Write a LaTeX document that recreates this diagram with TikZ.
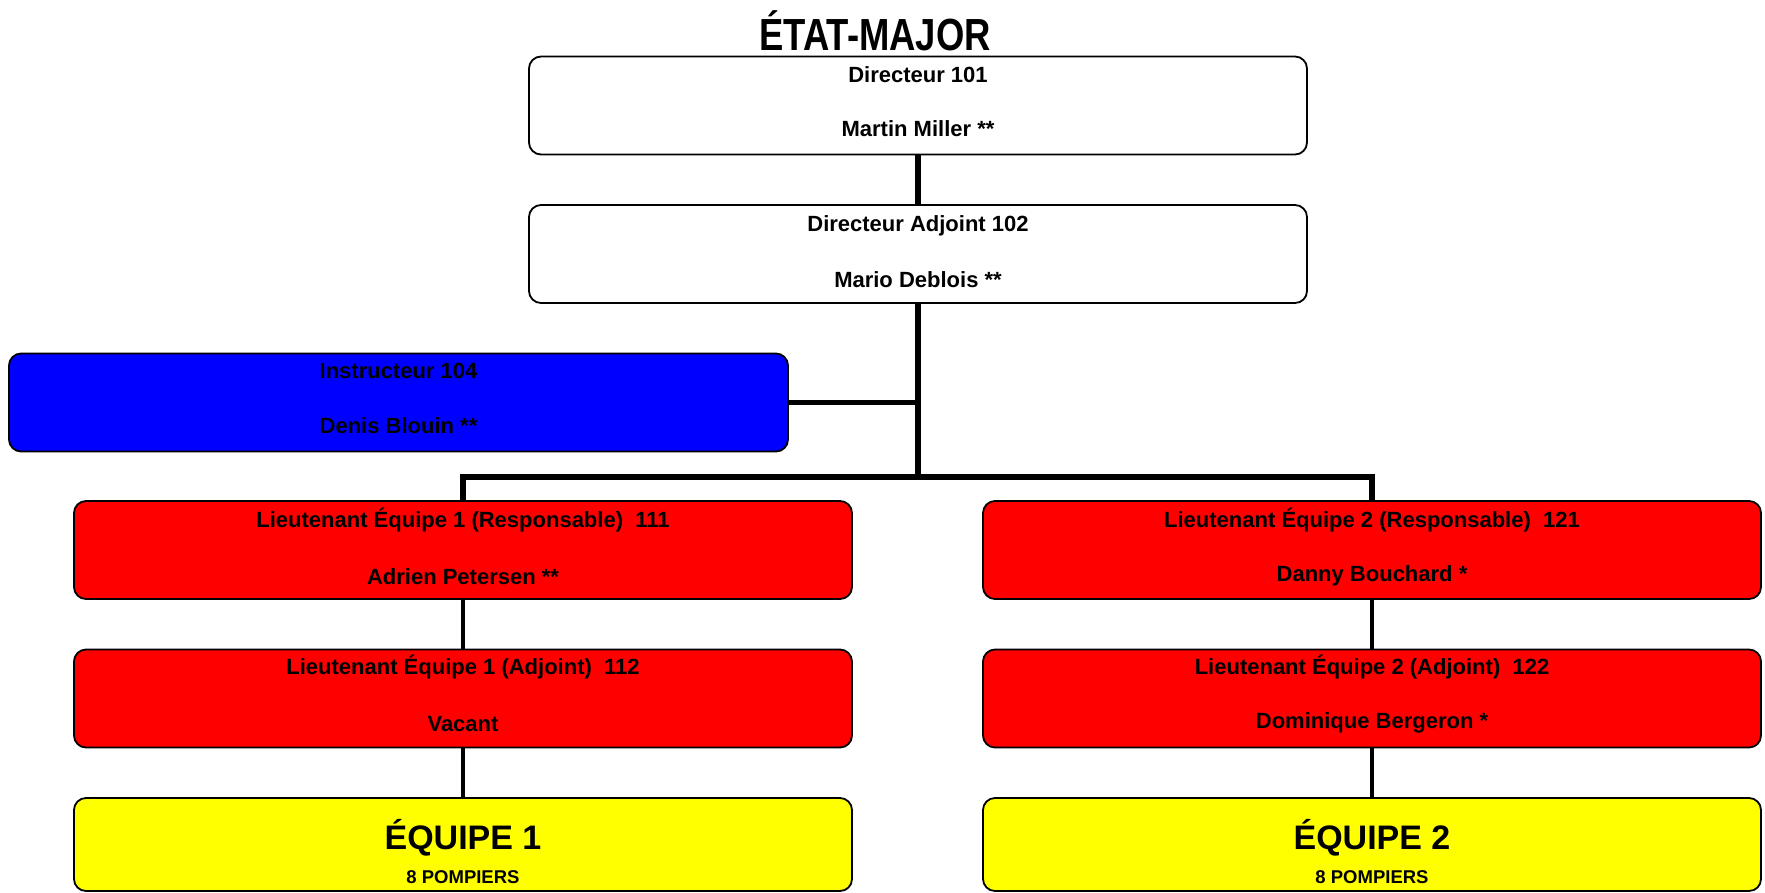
\documentclass[tikz,border=0pt]{standalone}
\usepackage{fontspec}
\setmainfont{Liberation Sans}
\newfontfamily\titlefam[FakeStretch=0.81]{Liberation Sans}
\usetikzlibrary{calc}
\newcommand\boxfont{\bfseries\fontsize{22}{26}\selectfont}
\newcommand\bigfont{\bfseries\fontsize{34}{38}\selectfont}
\newcommand\smallfont{\bfseries\fontsize{18.5}{21}\selectfont}
\definecolor{cblue}{RGB}{0,0,255}
\definecolor{cred}{RGB}{255,0,0}
\definecolor{cyellow}{RGB}{255,255,0}
\tikzset{
  box/.style={draw=black, line width=1.8pt, rounded corners=12pt, minimum width=778pt, minimum height=98pt, inner sep=0pt},
  txt/.style={font=\boxfont, anchor=base, inner sep=0pt},
  conn/.style={line width=5.5pt},
  connthin/.style={line width=4pt},
}
\begin{document}
\begin{tikzpicture}[x=1pt,y=-1pt]
\useasboundingbox (0,0) rectangle (1765,892);
\clip (0,0) rectangle (1765,892);
\fill[white] (0,0) rectangle (1765,892);

\node[font=\titlefam\bfseries\fontsize{45}{54}\selectfont, anchor=base, inner sep=0pt] (title) at (875,50) {ÉTAT-MAJOR};

% boxes
\node[box, fill=white] (dir) at (918,105.5) {};
\node[box, fill=white] (adj) at (918,254) {};
\node[box, fill=cblue, minimum width=779pt] (instr) at (398.5,402.5) {};
\node[box, fill=cred] (lta) at (463,550) {};
\node[box, fill=cred] (ltb) at (463,698.5) {};
\node[box, fill=cyellow, minimum height=93pt] (eqa) at (463,844.5) {};
\node[box, fill=cred] (ltc) at (1372,550) {};
\node[box, fill=cred] (ltd) at (1372,698.5) {};
\node[box, fill=cyellow, minimum height=93pt] (eqb) at (1372,844.5) {};

% texts
\node[txt] (dirA) at ($(dir.north)+(0,27)$) {Directeur 101};
\node[txt] (dirB) at ($(dir.north)+(0,81)$) {Martin Miller **};
\node[txt] (adjA) at ($(adj.north)+(0,27)$) {Directeur Adjoint 102};
\node[txt] (adjB) at ($(adj.north)+(0,83)$) {Mario Deblois **};
\node[txt] (insA) at ($(instr.north)+(0,26)$) {Instructeur 104};
\node[txt] (insB) at ($(instr.north)+(0,81)$) {Denis Blouin **};
\node[txt] (ltaA) at ($(lta.north)+(0,27)$) {Lieutenant Équipe 1 (Responsable)\ \ 111};
\node[txt] (ltaB) at ($(lta.north)+(0,84)$) {Adrien Petersen **};
\node[txt] (ltbA) at ($(ltb.north)+(0,26)$) {Lieutenant Équipe 1 (Adjoint)\ \ 112};
\node[txt] (ltbB) at ($(ltb.north)+(0,83)$) {Vacant};
\node[txt] (ltcA) at ($(ltc.north)+(0,27)$) {Lieutenant Équipe 2 (Responsable)\ \ 121};
\node[txt] (ltcB) at ($(ltc.north)+(0,81)$) {Danny Bouchard *};
\node[txt] (ltdA) at ($(ltd.north)+(0,26)$) {Lieutenant Équipe 2 (Adjoint)\ \ 122};
\node[txt] (ltdB) at ($(ltd.north)+(0,80)$) {Dominique Bergeron *};
\node[txt, font=\bigfont] (eqaA) at ($(eqa.north)+(0,52)$) {ÉQUIPE 1};
\node[txt, font=\smallfont] (eqaB) at ($(eqa.north)+(0,86)$) {8 POMPIERS};
\node[txt, font=\bigfont] (eqbA) at ($(eqb.north)+(0,52)$) {ÉQUIPE 2};
\node[txt, font=\smallfont] (eqbB) at ($(eqb.north)+(0,86)$) {8 POMPIERS};

% connectors
\coordinate (bar) at (918,477);
\draw[conn] (dir.south) -- (adj.north);
\draw[conn] (adj.south) -- (bar);
\draw[conn] (instr.east) -- (instr.east -| adj.south);
\draw[conn] (lta.north) -- (lta.north |- bar) -- (ltc.north |- bar) -- (ltc.north);
\draw[connthin] (lta.south) -- (ltb.north);
\draw[connthin] (ltb.south) -- (eqa.north);
\draw[connthin] (ltc.south) -- (ltd.north);
\draw[connthin] (ltd.south) -- (eqb.north);
\end{tikzpicture}
\end{document}
